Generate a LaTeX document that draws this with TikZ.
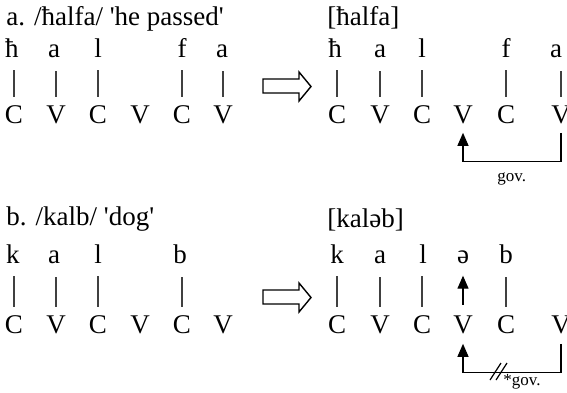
\documentclass[tikz,border=0pt]{standalone}
\usepackage{fontspec}
\setmainfont{Liberation Serif}
\usetikzlibrary{positioning,calc,arrows.meta}

\tikzset{
	seg/.style={anchor=base, inner sep=0pt, font=\fontsize{13.5}{16}\selectfont},
	ttl/.style={seg, anchor=base west},
	bar/.style={draw=black!75, line width=0.55pt, shorten <=4pt, shorten >=6.5pt},
	gov/.style={draw, line width=0.6pt, -{Triangle[length=6.5pt,width=5.5pt]}},
	govlbl/.style={anchor=base west, inner sep=0pt, font=\fontsize{8.5}{10}\selectfont},
	hollow/.style={draw, line width=0.7pt, fill=white, line join=miter},
}

\begin{document}
\begin{tikzpicture}[x=0.5pt,y=-0.5pt]
		\useasboundingbox (0,0) rectangle (567,392);
		
		% a. underlying form
		\node[ttl] (atitle) at (6,25) {a. /ħalfa/ \textquotesingle he passed\textquotesingle};
		\node[seg] (ah) at (12,57) {ħ};
		\node[seg] (aa) at (54,57) {a};
		\node[seg] (al) at (98,57) {l};
		\node[seg] (af) at (182,57) {f};
		\node[seg] (aa2) at (222,57) {a};
		\node[seg] (aC1) at (14,123) {C};
		\node[seg] (aV2) at (56,123) {V};
		\node[seg] (aC3) at (98,123) {C};
		\node[seg] (aV4) at (140,123) {V};
		\node[seg] (aC5) at (182,123) {C};
		\node[seg] (aV6) at (223,123) {V};
		\draw[bar] (aC1.north) -- (aC1.north |- ah.south);
		\draw[bar] (aV2.north) -- (aV2.north |- aa.south);
		\draw[bar] (aC3.north) -- (aC3.north |- al.south);
		\draw[bar] (aC5.north) -- (aC5.north |- af.south);
		\draw[bar] (aV6.north) -- (aV6.north |- aa2.south);
		
		\draw[hollow] (263,79) -- (299,79) -- (299,72) -- (311,86.5) -- (299,101) -- (299,93) -- (263,93) -- cycle;
		
		% a. surface form
		\node[ttl] (asurf) at (327,25) {[ħalfa]};
		\node[seg] (sh) at (335,57) {ħ};
		\node[seg] (sa) at (380,57) {a};
		\node[seg] (sl) at (422,57) {l};
		\node[seg] (sf) at (506,57) {f};
		\node[seg] (sa2) at (556,57) {a};
		\node[seg] (sC1) at (337,123) {C};
		\node[seg] (sV2) at (380,123) {V};
		\node[seg] (sC3) at (422,123) {C};
		\node[seg] (sV4) at (463,123) {V};
		\node[seg] (sC5) at (506,123) {C};
		\node[seg] (sV6) at (561,123) {V};
		\draw[bar] (sC1.north) -- (sC1.north |- sh.south);
		\draw[bar] (sV2.north) -- (sV2.north |- sa.south);
		\draw[bar] (sC3.north) -- (sC3.north |- sl.south);
		\draw[bar] (sC5.north) -- (sC5.north |- sf.south);
		\draw[bar] (sV6.north) -- (sV6.north |- sa2.south);
		\draw[gov] ([yshift=-4.5pt]sV6.south) -- ++(0,29) -| ([yshift=-4.5pt]sV4.south);
		\node[govlbl] (sgov) at (497,181) {gov.};
		
		% b. underlying form
		\node[ttl] (btitle) at (6,225) {b. /kalb/ \textquotesingle dog\textquotesingle};
		\node[seg] (bk) at (13,263) {k};
		\node[seg] (ba) at (54,263) {a};
		\node[seg] (bl) at (98,263) {l};
		\node[seg] (bb) at (180,263) {b};
		\node[seg] (bC1) at (14,333) {C};
		\node[seg] (bV2) at (56,333) {V};
		\node[seg] (bC3) at (98,333) {C};
		\node[seg] (bV4) at (140,333) {V};
		\node[seg] (bC5) at (182,333) {C};
		\node[seg] (bV6) at (223,333) {V};
		\draw[bar] (bC1.north) -- (bC1.north |- bk.south);
		\draw[bar] (bV2.north) -- (bV2.north |- ba.south);
		\draw[bar] (bC3.north) -- (bC3.north |- bl.south);
		\draw[bar] (bC5.north) -- (bC5.north |- bb.south);
		
		\draw[hollow] (263,290) -- (299,290) -- (299,283) -- (311,297.5) -- (299,312) -- (299,304) -- (263,304) -- cycle;
		
		% b. surface form
		\node[ttl] (tsurf) at (327,227) {[kaləb]};
		\node[seg] (tk) at (337,263) {k};
		\node[seg] (ta) at (380,263) {a};
		\node[seg] (tl) at (423,263) {l};
		\node[seg] (tschwa) at (463,263) {ə};
		\node[seg] (tb) at (506,263) {b};
		\node[seg] (tC1) at (337,333) {C};
		\node[seg] (tV2) at (380,333) {V};
		\node[seg] (tC3) at (422,333) {C};
		\node[seg] (tV4) at (463,333) {V};
		\node[seg] (tC5) at (506,333) {C};
		\node[seg] (tV6) at (561,333) {V};
		\draw[bar] (tC1.north) -- (tC1.north |- tk.south);
		\draw[bar] (tV2.north) -- (tV2.north |- ta.south);
		\draw[bar] (tC3.north) -- (tC3.north |- tl.south);
		\draw[bar] (tC5.north) -- (tC5.north |- tb.south);
		\draw[gov, shorten <=5pt, shorten >=6pt] (tV4.north) -- (tV4.north |- tschwa.south);
		\draw[gov] ([yshift=-5pt]tV6.south) -- ++(0,29) coordinate (tcorner) -| ([yshift=-5pt]tV4.south);
		\coordinate (tcut) at (496,372);
		\draw[line width=0.6pt] ($(tcut)+(-6,8)$) -- ($(tcut)+(5,-9)$);
		\draw[line width=0.6pt] ($(tcut)+(0,8)$) -- ($(tcut)+(11,-9)$);
		\node[govlbl] (tgov) at (503,385) {*gov.};
	\end{tikzpicture}
\end{document}
